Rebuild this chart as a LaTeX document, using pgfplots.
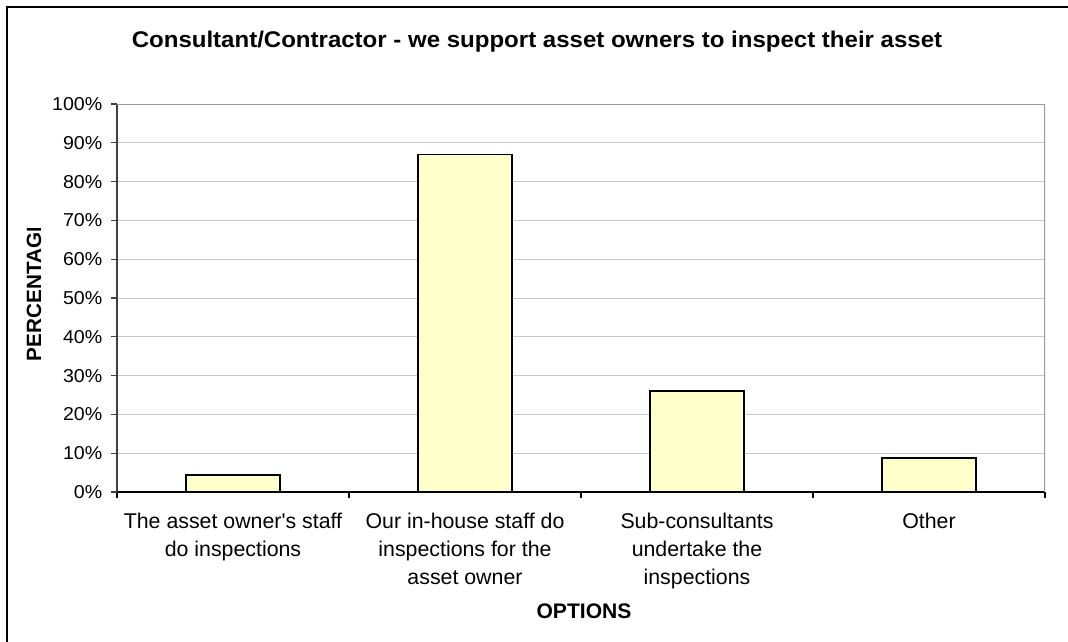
\documentclass[border=0pt]{standalone}
\usepackage{pgfplots}
\pgfplotsset{compat=1.18}
\usepackage{fontspec}
\setmainfont{Liberation Sans}

\definecolor{barfill}{HTML}{FFFFCC}
\definecolor{gridgray}{HTML}{C8C8C8}
\definecolor{framegray}{HTML}{9A9A9A}

\begin{document}
\begin{tikzpicture}
\useasboundingbox (0,0) rectangle (1068*0.75pt,-642*0.75pt);
% chart frame (left and top edge only visible)
\draw[line width=1.5pt] (7*0.75pt,-642*0.75pt) -- (7*0.75pt,-7*0.75pt) -- (1068*0.75pt,-7*0.75pt);

\node[font=\bfseries\fontsize{17}{20}\selectfont] at (537*0.75pt,-42*0.75pt)
  {\scalebox{1.06}[1]{Consultant/Contractor - we support asset owners to inspect their asset}};

\begin{scope}
  \clip (0,-228*0.75pt) rectangle (70*0.75pt,-420*0.75pt);
  \node[rotate=90, font=\bfseries\fontsize{15.5}{18}\selectfont] at (34*0.75pt,-290*0.75pt) {PERCENTAGE};
\end{scope}

\node[font=\bfseries\fontsize{15.8}{18}\selectfont] at (584*0.75pt,-611*0.75pt) {OPTIONS};

\begin{axis}[
    at={(117*0.75pt,-492*0.75pt)}, anchor=south west,
    width=696pt, height=291pt, scale only axis,
    ybar, bar width=0.405,
    xmin=-0.5, xmax=3.5, ymin=0, ymax=100,
    axis lines*=left, tick align=outside,
    x axis line style={-, black, line width=1.5pt},
    y axis line style={-, black!75, line width=1pt},
    xtick={0,1,2,3},
    xticklabels={The asset owner\textquotesingle s staff\\do inspections,
                 Our in-house staff do\\inspections for the\\asset owner,
                 Sub-consultants\\undertake the\\inspections,
                 Other},
    major x tick style={draw=none},
    minor xtick={-0.5,0.5,1.5,2.5,3.5},
    minor x tick style={black, line width=1pt},
    ytick={0,10,...,100},
    y tick style={black!75, line width=1pt},
    major tick length=4.5pt, minor tick length=4.5pt,
    yticklabel={\scalebox{1.05}[1]{\pgfmathprintnumber{\tick}\%}},
    ymajorgrids, grid style={gridgray, line width=0.75pt},
    /pgf/number format/assume math mode=true,
    xticklabel style={align=center, font=\fontsize{16}{21}\selectfont, yshift=-7.5pt},
    yticklabel style={font=\fontsize{14}{16}\selectfont, xshift=-3pt},
]
\addplot[fill=barfill, draw=black, line width=1.3pt] coordinates {
    (0, 4.3)
    (1, 87.0)
    (2, 26.1)
    (3, 8.7)
};
\draw[framegray, line width=1.5pt] (rel axis cs:0,1) -- (rel axis cs:1,1) -- (rel axis cs:1,0);
\end{axis}
\end{tikzpicture}
\end{document}
